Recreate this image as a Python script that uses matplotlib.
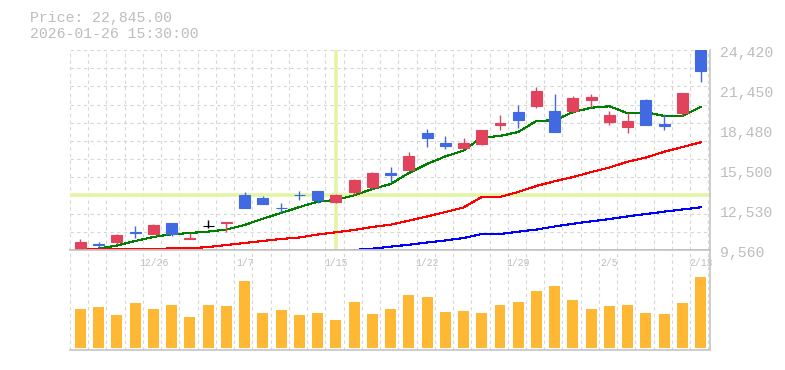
import numpy as np
import matplotlib
matplotlib.use("Agg")
import matplotlib.pyplot as plt

# --- data --------------------------------------------------------------
dates = ["12/22", "12/23", "12/24", "12/25", "12/26", "12/29", "12/30",
         "1/5", "1/6", "1/7", "1/8", "1/9", "1/13", "1/14", "1/15",
         "1/16", "1/19", "1/20", "1/21", "1/22", "1/23", "1/26", "1/27",
         "1/28", "1/29", "1/30", "2/2", "2/3", "2/4", "2/5", "2/6", "2/9",
         "2/10", "2/12", "2/13"]

opens = [9600, 10010, 10180, 10880, 10770, 11570, 10380, 11360, 11540, 13650,
         13420, 12700, 13670, 13940, 13130, 13890, 14240, 15300, 15530, 18250,
         17510, 17160, 17440, 18850, 19810, 20280, 19890, 19910, 20700, 19070,
         18700, 20700, 18920, 19740, 24420]
highs = [10380, 10130, 10730, 11340, 11490, 11590, 10790, 11790, 11640, 13870,
         13570, 13030, 13970, 13960, 13720, 14840, 15320, 15750, 16840, 18550,
         18030, 17880, 18510, 19590, 20330, 21670, 21150, 21000, 21150, 19890,
         19740, 20780, 19670, 21230, 24420]
lows = [9560, 9690, 10030, 10470, 10740, 10600, 10350, 11220, 10920, 12680,
        13000, 12290, 13280, 13030, 13070, 13650, 14090, 14630, 15530, 17240,
        17090, 17150, 17380, 18480, 18620, 20130, 18350, 19740, 20190, 18850,
        18250, 18850, 18480, 19490, 22040]
closes = [10150, 9930, 10670, 10800, 11400, 10730, 10430, 11360, 11640, 12680,
          13000, 12660, 13620, 13280, 13650, 14760, 15280, 15150, 16570, 17900,
          17310, 17510, 18480, 19000, 19240, 21400, 18350, 20850, 20930, 19590,
          19150, 18850, 18770, 21230, 22845]
volume = [390, 410, 330, 450, 390, 430, 310, 430, 420, 670, 350, 380, 330, 350,
          280, 460, 340, 390, 530, 510, 360, 370, 350, 430, 460, 570, 620, 480,
          390, 420, 430, 350, 340, 450, 710]

ma_short = [9410, 9670, 9890, 10230, 10530, 10730, 10820, 10930, 11080, 11420,
            11890, 12310, 12750, 13150, 13280, 13620, 14090, 14460, 15280, 15950,
            16510, 16950, 17920, 18030, 18330, 19150, 19200, 19810, 20130, 20240,
            19720, 19790, 19520, 19520, 20190]
ma_mid = [9660, 9610, 9610, 9610, 9610, 9690, 9690, 9780, 9930, 10080,
          10230, 10380, 10490, 10710, 10880, 11050, 11270, 11440, 11740, 12050,
          12380, 12720, 13500, 13500, 13870, 14320, 14670, 14980, 15350, 15690,
          16120, 16430, 16860, 17210, 17560]
ma_long = [np.nan] * 15 + [9565, 9660, 9810, 9950, 10120, 10270, 10450, 10750,
                           10750, 10920, 11080, 11310, 11510, 11690, 11860,
                           12060, 12230, 12410, 12570, 12730]

price_ticks = ["9,560", "12,530", "15,500", "18,480", "21,450", "24,420"]
date_labels = ["12/26", "1/7", "1/15", "1/22", "1/29", "2/5", "2/13"]
cross_date, cross_price = "1/15", 13650
title_price = "Price: 22,845.00"
title_time = "2026-01-26 15:30:00"

# --- style ---------------------------------------------------------------
UP = "#e2435c"
DOWN = "#4169e1"
FLAT = "#000000"
VOL = "#ffb833"
GRID = "#d6d6d6"
FRAME = "#c0c0c0"
TEXT = "#bdbdbd"
CROSS = "#e3f5a5"
FONT = "Liberation Mono"

o = np.array(opens, float)
c = np.array(closes, float)
x = np.arange(len(dates))
cols = [UP if cc > oo else DOWN if cc < oo else FLAT for oo, cc in zip(o, c)]

fig = plt.figure(figsize=(7.85, 3.7), dpi=100)
ax = fig.add_axes([70 / 785, 120 / 370, 640 / 785, 200 / 370])
axv = fig.add_axes([70 / 785, 20 / 370, 640 / 785, 100 / 370])

x0, x1 = -0.575, 34.514
ymin, ymax = 9560, 24420

for a in (ax, axv):
    a.set_xlim(x0, x1)
    a.set_xticks([])
    a.set_yticks([])
    for s in ("top", "left"):
        a.spines[s].set_visible(False)
    for s in ("bottom", "right"):
        a.spines[s].set_color(FRAME)
        a.spines[s].set_linewidth(1.1)
    # vertical dashed grid, one per candle slot
    a.vlines(np.arange(x0, x1, 1.0), 0, 1, transform=a.get_xaxis_transform(),
             colors=GRID, lw=0.8, linestyles=(0, (3, 3)), zorder=0)

ax.set_ylim(ymin, ymax)
ax.hlines(np.linspace(ymin, ymax, 12)[1:], x0, x1, colors=GRID, lw=0.8,
          linestyles=(0, (3, 3)), zorder=0)

# crosshair
ci = dates.index(cross_date)
ax.axvline(ci, color=CROSS, lw=2.6, zorder=1)
ax.axhline(cross_price, color=CROSS, lw=2.6, zorder=1)

# moving averages
ax.plot(x, ma_short, color="#008000", lw=0.8, zorder=2, antialiased=False)
ax.plot(x, ma_mid, color="#ff0000", lw=0.8, zorder=2, antialiased=False)
ax.plot(x, ma_long, color="#0000ff", lw=0.8, zorder=2, antialiased=False)

# candles
ax.vlines(x, lows, highs, colors=cols, lw=1.0, zorder=3)
ax.bar(x, np.abs(c - o), bottom=np.minimum(o, c), width=0.6, color=cols,
       edgecolor=cols, linewidth=0.8, zorder=4)

# price labels on the right
for v, lab in zip(np.linspace(ymin, ymax, 6), price_ticks):
    ax.annotate(lab, xy=(1, v), xycoords=("axes fraction", "data"),
                xytext=(7.5, -2), textcoords="offset points", ha="left",
                va="center", fontsize=10.7, color=TEXT, family=FONT,
                annotation_clip=False)

# volume
axv.set_ylim(-20, 980)
axv.bar(x, volume, width=0.6, color=VOL, zorder=2)
axv.spines["top"].set_visible(True)
axv.spines["top"].set_color(FRAME)
axv.spines["top"].set_linewidth(1.1)

for lab in date_labels:
    axv.annotate(lab, xy=(dates.index(lab), 1), xycoords=("data", "axes fraction"),
                 xytext=(0, -9.5), textcoords="offset points", ha="center",
                 va="center", fontsize=7, color=TEXT, family=FONT)

fig.text(30 / 785, 1 - 21.7 / 370, title_price, fontsize=10.7, color=TEXT,
         family=FONT, va="baseline")
fig.text(30 / 785, 1 - 37.5 / 370, title_time, fontsize=10.7, color=TEXT,
         family=FONT, va="baseline")

fig.savefig("out.png", dpi=100, facecolor="white")
